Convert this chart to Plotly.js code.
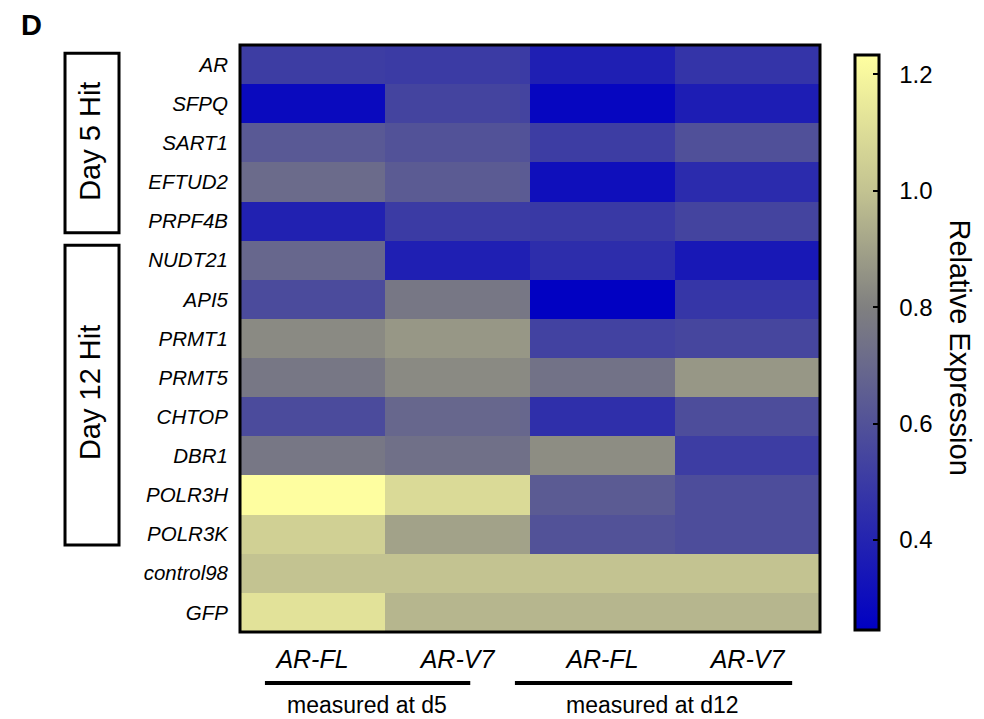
<!DOCTYPE html>
<html>
<head>
<meta charset="utf-8">
<script src="https://cdn.plot.ly/plotly-3.0.1.min.js"></script>
<style>html,body{margin:0;padding:0;background:#fff;}#chart{width:984px;height:719px;}</style>
</head>
<body>
<div id="chart"></div>
<script>
// Genes (rows, top to bottom)
const genes = ["AR","SFPQ","SART1","EFTUD2","PRPF4B","NUDT21","API5","PRMT1","PRMT5","CHTOP","DBR1","POLR3H","POLR3K","control98","GFP"];
// Columns
const columnLabels = ["AR-FL","AR-V7","AR-FL","AR-V7"];
const groupLabels = ["measured at d5","measured at d12"];
// Relative expression per column
const arflD5  = [0.51,0.29,0.63,0.71,0.39,0.69,0.57,0.83,0.76,0.57,0.76,1.23,1.05,1.00,1.12];
const arv7D5  = [0.50,0.54,0.60,0.64,0.50,0.38,0.76,0.87,0.83,0.69,0.73,1.09,0.90,1.00,0.96];
const arflD12 = [0.38,0.27,0.51,0.31,0.49,0.44,0.25,0.53,0.74,0.45,0.84,0.64,0.60,1.00,0.96];
const arv7D12 = [0.47,0.37,0.59,0.43,0.54,0.35,0.48,0.55,0.87,0.58,0.51,0.58,0.58,1.00,0.96];
const colorbarTicks = [0.4,0.6,0.8,1.0,1.2];
const zMin = 0.245, zMax = 1.233;

const cols = [arflD5, arv7D5, arflD12, arv7D12];
const z = genes.map((g,i)=>cols.map(c=>c[i]));
const norm = v => (v - zMin)/(zMax - zMin);

const FONT = "Liberation Sans, Arial, sans-serif";

const trace = {
  type: "heatmap",
  z: z,
  x: [0,1,2,3],
  y: genes,
  zmin: zMin, zmax: zMax,
  colorscale: [
    [0, "rgb(0,0,195)"],
    [norm(0.8), "rgb(128,128,128)"],
    [norm(1.0), "rgb(195,195,145)"],
    [1, "rgb(255,255,160)"]
  ],
  xgap: 0, ygap: 0,
  colorbar: {
    x: 1.06, xanchor: "left",
    y: 0.493, yanchor: "middle",
    len: 575, lenmode: "pixels",
    thickness: 24,
    outlinewidth: 3, outlinecolor: "#000",
    tickvals: colorbarTicks,
    ticktext: colorbarTicks.map(v=>"\u00a0\u00a0"+v.toFixed(1)),
    ticks: "inside", ticklen: 7, tickwidth: 2, tickcolor: "#000",
    tickfont: {family: FONT, size: 24, color: "#000"},
    xpad: 0, ypad: 0
  },
  hoverinfo: "skip"
};

const shapes = [
  // Day boxes
  {type:"rect", xref:"paper", yref:"paper", x0:-0.3017, x1:-0.2086, y0:0.680, y1:0.986, line:{color:"#000", width:3}},
  {type:"rect", xref:"paper", yref:"paper", x0:-0.3017, x1:-0.2086, y0:0.148, y1:0.659, line:{color:"#000", width:3}},
  // group underlines
  {type:"line", xref:"paper", yref:"paper", x0:0.043, x1:0.397, y0:-0.0869, y1:-0.0869, line:{color:"#000", width:4}},
  {type:"line", xref:"paper", yref:"paper", x0:0.474, x1:0.952, y0:-0.0869, y1:-0.0869, line:{color:"#000", width:4}},
  // plot frame
  {type:"rect", xref:"paper", yref:"paper", x0:0, x1:1, y0:0, y1:1, line:{color:"#000", width:3}}
];

const annotations = [
  {text:"<b>D</b>", xref:"paper", yref:"paper", x:-0.360, y:1.034, xanchor:"center", yanchor:"middle", showarrow:false, font:{family:FONT, size:29, color:"#000"}},
  {text:"Day 5 Hit", xref:"paper", yref:"paper", x:-0.2586, y:0.835, xanchor:"center", yanchor:"middle", textangle:-90, showarrow:false, font:{family:FONT, size:29, color:"#000"}},
  {text:"Day 12 Hit", xref:"paper", yref:"paper", x:-0.2586, y:0.407, xanchor:"center", yanchor:"middle", textangle:-90, showarrow:false, font:{family:FONT, size:29, color:"#000"}},
  {text:groupLabels[0], xref:"paper", yref:"paper", x:0.219, y:-0.124, xanchor:"center", yanchor:"middle", showarrow:false, font:{family:FONT, size:23, color:"#000"}},
  {text:groupLabels[1], xref:"paper", yref:"paper", x:0.712, y:-0.124, xanchor:"center", yanchor:"middle", showarrow:false, font:{family:FONT, size:23, color:"#000"}},
  {text:"Relative Expression", xref:"paper", yref:"paper", x:1.241, y:0.485, xanchor:"center", yanchor:"middle", textangle:90, showarrow:false, font:{family:FONT, size:29, color:"#000"}}
];

const layout = {
  width: 984, height: 719,
  margin: {l:240, r:164, t:45, b:87},
  paper_bgcolor: "#fff", plot_bgcolor: "#fff",
  font: {family: FONT, color: "#000"},
  xaxis: {
    tickmode: "array", tickvals: [0,1,2,3],
    ticktext: columnLabels.map(t=>"<i>"+t+"</i>"),
    tickfont: {family: FONT, size: 25, color: "#000"},
    ticks: "", showgrid: false, zeroline: false, showline: false,
    ticklabelstandoff: 10, fixedrange: true
  },
  yaxis: {
    autorange: "reversed",
    tickmode: "array", tickvals: genes,
    ticktext: genes.map(t=>"<i>"+t+"</i>"),
    tickfont: {family: FONT, size: 20.5, color: "#000"},
    ticks: "", showgrid: false, zeroline: false, showline: false,
    ticklabelstandoff: 11, fixedrange: true
  },
  shapes: shapes,
  annotations: annotations
};

Plotly.newPlot("chart", [trace], layout, {displayModeBar:false, staticPlot:true});
</script>
</body>
</html>
